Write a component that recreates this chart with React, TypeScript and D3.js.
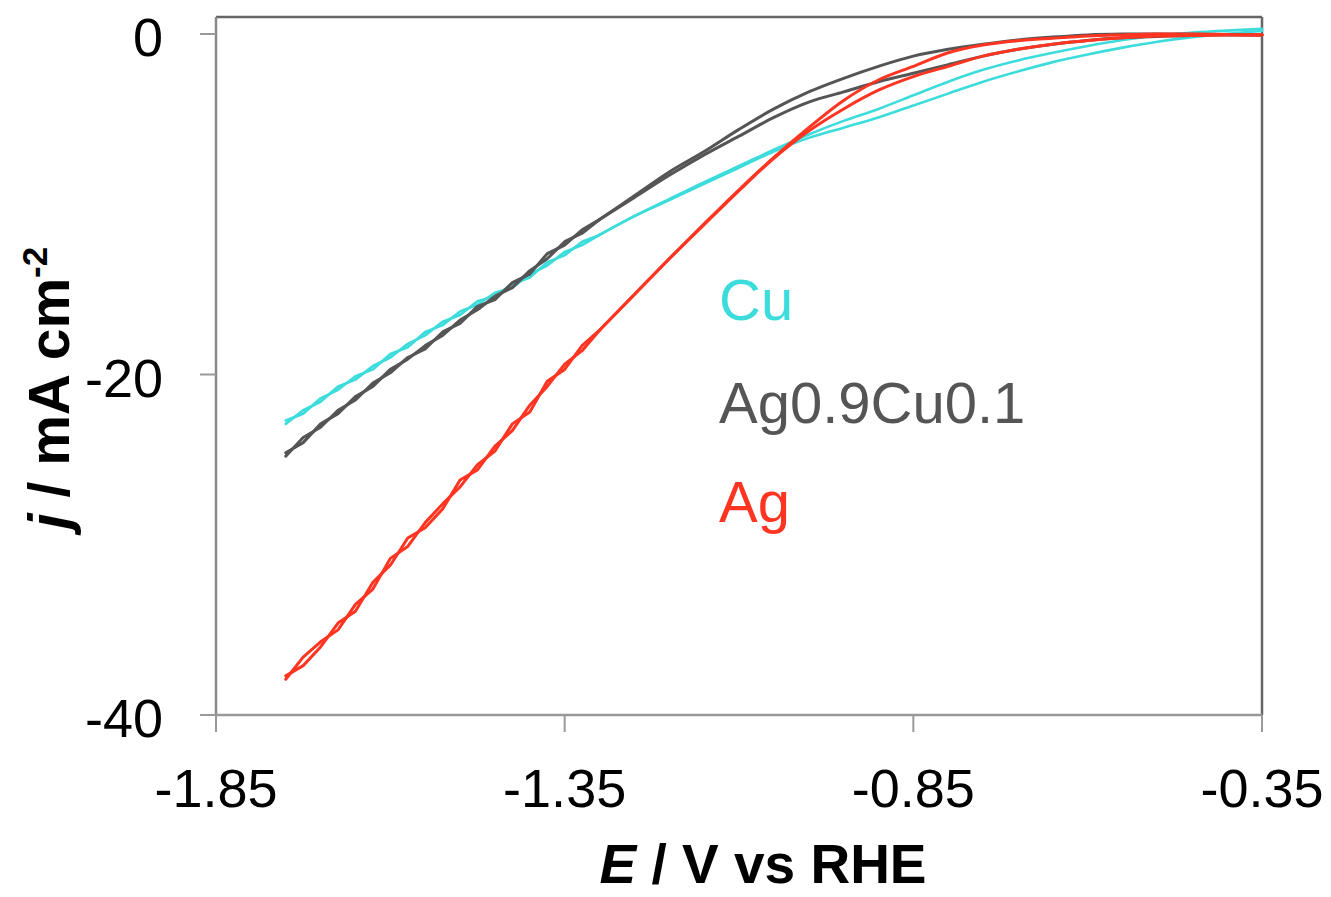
import React from "react";
import * as d3 from "d3";

// Potential grid (V vs RHE)
const potentials = [
  -1.75, -1.725, -1.7, -1.675, -1.65, -1.625, -1.6, -1.575, -1.55, -1.525, -1.5, -1.475, -1.45,
  -1.425, -1.4, -1.375, -1.35, -1.325, -1.3, -1.25, -1.2, -1.15, -1.1, -1.05, -1.0, -0.95, -0.9,
  -0.85, -0.8, -0.75, -0.7, -0.65, -0.6, -0.55, -0.5, -0.45, -0.4, -0.35,
];
// index of -1.30 V: below it the traces are noisy (drawn straight), above it smooth
const NOISY_END = 18;

// Current density (mA cm-2), two sweeps per electrode
const agSweepA = [
  -37.7, -37.1, -36.0, -34.6, -33.9, -32.2, -31.2, -29.6, -29.0, -27.9, -26.2, -25.6, -24.2,
  -23.3, -21.8, -20.7, -19.4, -18.6, -17.4, -15.3, -13.2, -11.15, -9.15, -7.25, -5.5, -3.9, -2.7,
  -1.9, -1.1, -0.65, -0.4, -0.25, -0.12, -0.05, 0.0, 0.0, -0.03, -0.06,
];
const agSweepB = [
  -37.9, -36.6, -35.7, -35.0, -33.5, -32.6, -30.8, -30.1, -28.7, -27.6, -26.6, -25.3, -24.5,
  -22.9, -22.2, -20.4, -19.7, -18.3, -17.4, -15.3, -13.2, -11.2, -9.2, -7.3, -5.7, -4.4, -3.3,
  -2.5, -1.9, -1.3, -0.9, -0.6, -0.38, -0.22, -0.12, -0.08, -0.06, -0.06,
];
const agcuSweepA = [
  -24.6, -24.0, -22.9, -22.3, -21.3, -20.7, -19.7, -19.1, -18.3, -17.7, -16.8, -16.2, -15.4,
  -14.9, -13.9, -13.2, -12.2, -11.7, -10.9, -9.5, -8.1, -6.9, -5.6, -4.4, -3.4, -2.6, -1.9,
  -1.3, -0.9, -0.6, -0.35, -0.18, -0.05, 0, 0, -0.02, -0.04, -0.06,
];
const agcuSweepB = [
  -24.8, -23.7, -23.1, -22.1, -21.5, -20.5, -19.9, -19.0, -18.5, -17.5, -17.0, -16.0, -15.6,
  -14.6, -14.1, -12.9, -12.4, -11.5, -10.9, -9.6, -8.3, -7.1, -6.0, -4.9, -4.0, -3.4, -2.8,
  -2.3, -1.8, -1.3, -0.9, -0.6, -0.38, -0.22, -0.14, -0.08, -0.04, -0.06,
];
const cuSweepA = [
  -22.7, -22.3, -21.4, -20.9, -20.1, -19.7, -18.8, -18.4, -17.5, -17.1, -16.3, -15.9, -15.2,
  -14.9, -14.1, -13.6, -12.8, -12.4, -11.8, -10.7, -9.7, -8.7, -7.75, -6.8, -5.9, -5.1, -4.4,
  -3.6, -2.8, -2.1, -1.55, -1.1, -0.7, -0.35, -0.08, 0.08, 0.2, 0.3,
];
const cuSweepB = [
  -22.9, -22.1, -21.6, -20.7, -20.3, -19.5, -19.0, -18.2, -17.7, -16.9, -16.5, -15.7, -15.4,
  -14.7, -14.3, -13.4, -13.0, -12.2, -11.8, -10.7, -9.75, -8.8, -7.85, -6.9, -6.1, -5.5, -4.9,
  -4.2, -3.5, -2.8, -2.2, -1.65, -1.2, -0.8, -0.45, -0.18, 0.02, 0.18,
];

const xTicks = [-1.85, -1.35, -0.85, -0.35];
const yTicks = [0, -20, -40];

const seriesNames = ["Cu", "Ag0.9Cu0.1", "Ag"];
const seriesColors = ["#3ddcdc", "#555555", "#ff3522"];

export default function App() {
  const W = 1331;
  const H = 897;
  const left = 216, right = 1262, top = 17, bottom = 715;
  const x = d3.scaleLinear().domain([-1.85, -0.35]).range([left, right]);
  const y = d3.scaleLinear().domain([-40, 1]).range([bottom, top]);
  const lineStraight = d3
    .line<[number, number]>()
    .x((d) => x(d[0]))
    .y((d) => y(d[1]));
  const lineSmooth = d3
    .line<[number, number]>()
    .x((d) => x(d[0]))
    .y((d) => y(d[1]))
    .curve(d3.curveCatmullRom.alpha(0.5));

  const mk = (vals: number[]) => potentials.map((e, i) => [e, vals[i]] as [number, number]);

  const traces = [
    { vals: cuSweepA, color: seriesColors[0], w: 2.6 },
    { vals: cuSweepB, color: seriesColors[0], w: 2.6 },
    { vals: agcuSweepA, color: seriesColors[1], w: 3 },
    { vals: agcuSweepB, color: seriesColors[1], w: 3 },
    { vals: agSweepA, color: seriesColors[2], w: 3 },
    { vals: agSweepB, color: seriesColors[2], w: 3 },
  ];

  const labelY = [320, 423, 522];
  const font = "Arial, 'Liberation Sans', Helvetica, sans-serif";

  return (
    <svg
      width={W}
      height={H}
      style={{ position: "absolute", left: 0, top: 0, background: "#fff" }}
      fontFamily={font}
    >
      <rect x={0} y={0} width={W} height={H} fill="#fff" />
      {/* frame top & right */}
      <line x1={left} y1={top} x2={right} y2={top} stroke="#666" strokeWidth={2.5} />
      <line x1={right} y1={top} x2={right} y2={bottom} stroke="#666" strokeWidth={2.5} />
      {/* axes */}
      <line x1={left} y1={top} x2={left} y2={bottom} stroke="#888" strokeWidth={2.5} />
      <line x1={left} y1={bottom} x2={right} y2={bottom} stroke="#999" strokeWidth={2.5} />
      {yTicks.map((t) => (
        <g key={"y" + t}>
          <line x1={left - 16} x2={left} y1={y(t)} y2={y(t)} stroke="#999" strokeWidth={2} />
          <text x={163} y={y(t) + 22} textAnchor="end" fontSize={54} fill="#000">
            {t}
          </text>
        </g>
      ))}
      {xTicks.map((t) => (
        <g key={"x" + t}>
          <line x1={x(t)} x2={x(t)} y1={bottom} y2={bottom + 17} stroke="#999" strokeWidth={2} />
          <text x={x(t)} y={807} textAnchor="middle" fontSize={54} fill="#000">
            {t.toFixed(2)}
          </text>
        </g>
      ))}
      {traces.map((t, i) => {
        const pts = mk(t.vals);
        return (
          <g key={i} fill="none" stroke={t.color} strokeWidth={t.w} strokeLinejoin="round" strokeLinecap="round">
            <path d={lineStraight(pts.slice(0, NOISY_END + 1)) || ""} />
            <path d={lineSmooth(pts.slice(NOISY_END)) || ""} />
          </g>
        );
      })}
      {seriesNames.map((n, i) => (
        <text key={n} x={719} y={labelY[i]} fontSize={58} fill={seriesColors[i]}>
          {n}
        </text>
      ))}
      {/* axis titles */}
      <text x={763} y={883} textAnchor="middle" fontSize={55} fontWeight="bold" fill="#000">
        <tspan fontStyle="italic">E</tspan>
        <tspan> / V vs RHE</tspan>
      </text>
      <text
        transform="translate(69,388) rotate(-90)"
        textAnchor="middle"
        fontSize={57}
        fontWeight="bold"
        fill="#000"
      >
        <tspan fontStyle="italic">j</tspan>
        <tspan> / mA cm</tspan>
        <tspan fontSize={35} dy={-22}>-2</tspan>
      </text>
    </svg>
  );
}
